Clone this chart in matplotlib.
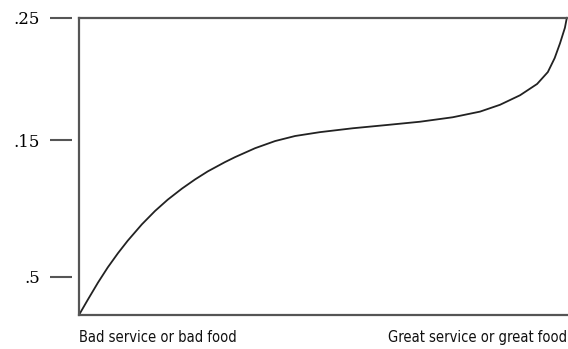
import matplotlib
matplotlib.use("Agg")
import matplotlib.pyplot as plt

# quality along x (0 = bad, 100 = great), satisfaction in axis-height units
quality = [0, 1.8, 3.9, 5.9, 8.0, 10.0, 12.9, 15.6, 18.2, 21.1, 23.8, 26.4,
           29.9, 32.0, 36.1, 40.2, 44.3, 49.4, 56.1, 63.1, 69.9, 76.6, 82.2,
           86.3, 90.4, 93.9, 96.1, 97.5, 98.6, 99.6, 100]
level = [0, 0.051, 0.109, 0.160, 0.208, 0.250, 0.305, 0.350, 0.388, 0.425,
         0.456, 0.483, 0.514, 0.531, 0.561, 0.585, 0.602, 0.615, 0.628, 0.639,
         0.650, 0.665, 0.684, 0.707, 0.739, 0.777, 0.817, 0.864, 0.914, 0.966,
         1.0]

tick_pos = [0.128, 0.588, 1.0]
tick_labels = [".5", ".15", ".25"]
x_labels = ["Bad service or bad food", "Great service or great food"]

edge = "#555555"

fig = plt.figure(figsize=(5.68, 3.49), dpi=100)
ax = fig.add_axes([0.139, 0.0974, 0.859, 0.852])

ax.plot(quality, level, color="#222222", lw=1.3, solid_capstyle="round",
        solid_joinstyle="round", clip_on=False)
ax.set_xlim(0, 100)
ax.set_ylim(0, 1)

for side in ("left", "top", "bottom"):
    ax.spines[side].set_color(edge)
    ax.spines[side].set_linewidth(1.6)
ax.spines["right"].set_visible(False)
ax.set_xticks([])
ax.set_yticks([])

# detached tick marks on the left
sec = ax.secondary_yaxis(-0.0143)
sec.spines["left"].set_visible(False)
sec.set_yticks(tick_pos)
sec.set_yticklabels(tick_labels, family="DejaVu Serif", fontsize=12)
sec.tick_params(axis="y", length=16, width=1.5, color=edge, pad=7)

ax.text(0, -0.077, x_labels[0], transform=ax.transAxes, ha="left", va="center",
        fontsize=10.5, fontstretch="condensed", color="#111111")
ax.text(1, -0.077, x_labels[1], transform=ax.transAxes, ha="right", va="center",
        fontsize=10.5, fontstretch="condensed", color="#111111")

fig.savefig("out.png", dpi=100)
